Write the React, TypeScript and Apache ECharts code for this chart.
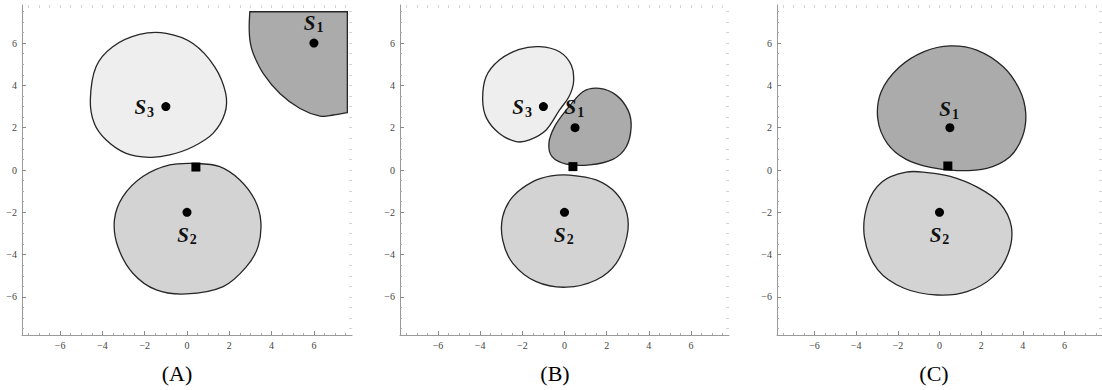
import React, { useEffect, useRef } from "react";
import * as echarts from "echarts";

// ---------- axis ----------
const AXIS_MIN = -7.8;
const AXIS_MAX = 7.8;
const majorTicks = [-6, -4, -2, 0, 2, 4, 6];
const minorTicks = [-7.5, -7, -6.5, -5.5, -5, -4.5, -3.5, -3, -2.5, -1.5, -1, -0.5, 0.5, 1, 1.5, 2.5, 3, 3.5, 4.5, 5, 5.5, 6.5, 7, 7.5];
const allTicks = [-7.5, -7, -6.5, -6, -5.5, -5, -4.5, -4, -3.5, -3, -2.5, -2, -1.5, -1, -0.5, 0, 0.5, 1, 1.5, 2, 2.5, 3, 3.5, 4, 4.5, 5, 5.5, 6, 6.5, 7, 7.5];
const captions = ["(A)", "(B)", "(C)"];

// ---------- panel A ----------
const regionA_S1: number[][] = [
  [2.97, 7.48], [7.58, 7.48], [7.58, 2.71],
  [6.92, 2.6], [6.29, 2.55], [5.34, 2.91], [4.39, 3.62], [3.6, 4.57], [3.13, 5.51], [2.98, 6.1], [2.94, 6.75],
];
const cornersA_S1 = [0, 1, 2];
const regionA_S3: number[][] = [
  [-4.57, 3.31], [-4.3, 4.88], [-3.51, 5.83], [-2.24, 6.41], [-0.98, 6.46], [0.28, 5.98], [1.31, 4.88],
  [1.83, 3.62], [1.79, 2.68], [1.23, 1.73], [0.28, 1.1], [-0.82, 0.71], [-1.77, 0.6], [-2.88, 0.79],
  [-3.82, 1.42], [-4.38, 2.2],
];
const regionA_S2: number[][] = [
  [0.44, 0.31], [1.55, 0.16], [2.5, -0.47], [3.21, -1.42], [3.49, -2.44], [3.36, -3.62], [2.81, -4.57],
  [1.71, -5.51], [-0.03, -5.86], [-1.45, -5.67], [-2.56, -4.88], [-3.27, -3.62], [-3.43, -2.36],
  [-3.03, -1.26], [-2.09, -0.31], [-0.82, 0.24],
];
const dotsA: number[][] = [[6, 6], [-1, 3], [0, -2]];
const squareA: number[][] = [[0.42, 0.14]];
const labelsA: [number, number, string][] = [[5.99, 6.96, "1"], [-2.02, 2.96, "3"], [0, -3.06, "2"]];

// ---------- panel B ----------
const regionB_S3: number[][] = [
  [-3.88, 3.31], [-3.72, 4.41], [-3.09, 5.2], [-2.14, 5.7], [-1.19, 5.83], [-0.24, 5.59], [0.32, 4.96],
  [0.43, 4.17], [0.21, 3.46], [-0.24, 2.83], [-0.87, 1.89], [-1.66, 1.42], [-2.29, 1.34], [-3.09, 1.73],
  [-3.69, 2.44],
];
const regionB_S1: number[][] = [
  [0.87, 3.7], [1.66, 3.86], [2.45, 3.54], [3.01, 2.83], [3.16, 2.05], [2.93, 1.1], [2.29, 0.5],
  [1.19, 0.24], [0.08, 0.28], [-0.59, 0.63], [-0.74, 1.26], [-0.47, 2.05], [0.08, 2.83],
];
const regionB_S2: number[][] = [
  [0.24, -0.24], [1.5, -0.47], [2.45, -1.1], [2.96, -2.05], [2.96, -3.15], [2.45, -4.41], [1.5, -5.2],
  [0.08, -5.54], [-1.34, -5.28], [-2.45, -4.41], [-2.93, -3.31], [-2.93, -2.2], [-2.45, -1.26],
  [-1.5, -0.55], [-0.63, -0.28],
];
const dotsB: number[][] = [[-1, 3], [0.5, 2], [0, -2]];
const squareB: number[][] = [[0.4, 0.16]];
const labelsB: [number, number, string][] = [[-2.01, 2.96, "3"], [0.47, 2.96, "1"], [-0.03, -3.06, "2"]];

// ---------- panel C ----------
const regionC_S1: number[][] = [
  [0.52, 5.87], [1.79, 5.67], [3.06, 4.88], [3.85, 3.78], [4.14, 2.68], [3.98, 1.57], [3.38, 0.63],
  [2.27, 0.08], [0.84, -0.03], [-0.43, 0.12], [-1.6, 0.5], [-2.5, 1.25], [-2.96, 2.4], [-2.8, 3.7],
  [-1.95, 4.85], [-0.74, 5.6],
];
const regionC_S2: number[][] = [
  [-1.6, -0.1], [-0.6, -0.12], [0.52, -0.3], [1.79, -0.8], [2.9, -1.57], [3.45, -2.68], [3.3, -3.94],
  [2.58, -5.04], [1.32, -5.75], [-0.11, -5.91], [-1.7, -5.59], [-2.96, -4.72], [-3.6, -3.2],
  [-3.45, -1.6], [-2.75, -0.55],
];
const dotsC: number[][] = [[0.5, 2], [0, -2]];
const squareC: number[][] = [[0.4, 0.19]];
const labelsC: [number, number, string][] = [[0.46, 2.88, "1"], [0, -3.06, "2"]];

const FILL_S1 = "#ababab";
const FILL_S2 = "#d3d3d3";
const FILL_S3 = "#eeeeee";
const SERIF = '"Liberation Serif", "DejaVu Serif", serif';

type Region = { pts: number[][]; corners: number[]; fill: string };
type Panel = {
  grid: { left: number; top: number; width: number; height: number };
  captionX: number;
  regions: Region[];
  dots: number[][];
  square: number[][];
  labels: [number, number, string][];
};

const panels: Panel[] = [
  {
    grid: { left: 22, top: 5, width: 330, height: 330 },
    captionX: 177,
    regions: [
      { pts: regionA_S1, corners: cornersA_S1, fill: FILL_S1 },
      { pts: regionA_S3, corners: [], fill: FILL_S3 },
      { pts: regionA_S2, corners: [], fill: FILL_S2 },
    ],
    dots: dotsA, square: squareA, labels: labelsA,
  },
  {
    grid: { left: 400, top: 5, width: 329, height: 330 },
    captionX: 555,
    regions: [
      { pts: regionB_S3, corners: [], fill: FILL_S3 },
      { pts: regionB_S1, corners: [], fill: FILL_S1 },
      { pts: regionB_S2, corners: [], fill: FILL_S2 },
    ],
    dots: dotsB, square: squareB, labels: labelsB,
  },
  {
    grid: { left: 777, top: 5, width: 330, height: 330 },
    captionX: 934,
    regions: [
      { pts: regionC_S1, corners: [], fill: FILL_S1 },
      { pts: regionC_S2, corners: [], fill: FILL_S2 },
    ],
    dots: dotsC, square: squareC, labels: labelsC,
  },
];

function buildPath(px: number[][], corners: number[]): string {
  const n = px.length;
  const k = 1 / 6;
  const isC = (i: number) => corners.indexOf(i) >= 0;
  let d = `M${px[0][0]},${px[0][1]}`;
  for (let i = 0; i < n; i++) {
    const p0 = px[(i - 1 + n) % n];
    const p1 = px[i];
    const p2 = px[(i + 1) % n];
    const p3 = px[(i + 2) % n];
    const c1 = isC(i) ? p1 : [p1[0] + (p2[0] - p0[0]) * k, p1[1] + (p2[1] - p0[1]) * k];
    const c2 = isC((i + 1) % n) ? p2 : [p2[0] - (p3[0] - p1[0]) * k, p2[1] - (p3[1] - p1[1]) * k];
    d += ` C${c1[0]},${c1[1]} ${c2[0]},${c2[1]} ${p2[0]},${p2[1]}`;
  }
  return d + " Z";
}

const fmt = (v: number) => String(v).replace("-", "\u2212");

function buildOption() {
  const grid: any[] = [];
  const xAxis: any[] = [];
  const yAxis: any[] = [];
  const series: any[] = [];
  const graphic: any[] = [];

  panels.forEach((p, pi) => {
    for (let j = 0; j < 3; j++) grid.push({ ...p.grid, containLabel: false });
    const g0 = pi * 3;
    const base = { type: "value", min: AXIS_MIN, max: AXIS_MAX, splitLine: { show: false } };
    const line = { show: true, onZero: false, lineStyle: { color: "#9a9a9a", width: 1 } };
    const noLine = { show: false, onZero: false };
    const lbl = { customValues: majorTicks, formatter: fmt, fontSize: 10, color: "#444", fontFamily: SERIF, margin: 5 };
    xAxis.push({
      ...base, gridIndex: g0, position: "bottom", axisLine: line,
      axisTick: { show: true, inside: true, length: 4, customValues: majorTicks, lineStyle: { color: "#8a8a8a" } },
      axisLabel: lbl,
    });
    yAxis.push({
      ...base, gridIndex: g0, position: "left", axisLine: line,
      axisTick: { show: true, inside: true, length: 4, customValues: majorTicks, lineStyle: { color: "#8a8a8a" } },
      axisLabel: lbl,
    });
    xAxis.push({
      ...base, gridIndex: g0 + 1, position: "bottom", axisLine: noLine,
      axisTick: { show: true, inside: true, length: 2, customValues: minorTicks, lineStyle: { color: "#aaa" } },
      axisLabel: { show: false },
    });
    yAxis.push({
      ...base, gridIndex: g0 + 1, position: "left", axisLine: noLine,
      axisTick: { show: true, inside: true, length: 2, customValues: minorTicks, lineStyle: { color: "#aaa" } },
      axisLabel: { show: false },
    });
    xAxis.push({
      ...base, gridIndex: g0 + 2, position: "top", axisLine: noLine,
      axisTick: { show: true, inside: true, length: 3, customValues: allTicks, lineStyle: { color: "#d4d4d4" } },
      axisLabel: { show: false },
    });
    yAxis.push({
      ...base, gridIndex: g0 + 2, position: "right", axisLine: noLine,
      axisTick: { show: true, inside: true, length: 3, customValues: allTicks, lineStyle: { color: "#d4d4d4" } },
      axisLabel: { show: false },
    });

    p.regions.forEach((r) => {
      series.push({
        type: "custom",
        xAxisIndex: g0, yAxisIndex: g0,
        silent: true, clip: false,
        data: r.pts,
        renderItem: (params: any, api: any) => {
          if (params.dataIndex !== 0) return null;
          const px = r.pts.map((pt) => api.coord(pt));
          return {
            type: "path",
            shape: { pathData: buildPath(px, r.corners) },
            style: { fill: r.fill, stroke: "#262626", lineWidth: 1.3 },
          };
        },
      });
    });

    series.push({
      type: "scatter", xAxisIndex: g0, yAxisIndex: g0, silent: true,
      symbol: "circle", symbolSize: 9, itemStyle: { color: "#000", opacity: 1 }, data: p.dots, z: 5,
    });
    series.push({
      type: "scatter", xAxisIndex: g0, yAxisIndex: g0, silent: true,
      symbol: "rect", symbolSize: 9, itemStyle: { color: "#000", opacity: 1 }, data: p.square, z: 5,
    });
    series.push({
      type: "custom", xAxisIndex: g0, yAxisIndex: g0, silent: true, z: 6,
      data: p.labels,
      renderItem: (params: any, api: any) => {
        const lb = p.labels[params.dataIndex];
        const c = api.coord([lb[0], lb[1]]);
        return {
          type: "text",
          x: c[0], y: c[1],
          style: {
            text: `{s|S}{d|${lb[2]}}`,
            align: "center",
            verticalAlign: "middle",
            rich: {
              s: { fontFamily: SERIF, fontStyle: "italic", fontWeight: "bold", fontSize: 21, fill: "#111", lineHeight: 22 },
              d: { fontFamily: SERIF, fontWeight: "bold", fontSize: 14, fill: "#111", lineHeight: 14, padding: [10, 0, 0, 1] },
            },
          },
        };
      },
    });

    graphic.push({
      type: "text", x: p.captionX, y: 373,
      style: { text: captions[pi], fontFamily: SERIF, fontSize: 22, fill: "#000", align: "center", verticalAlign: "middle" },
    });
  });

  return { animation: false, backgroundColor: "#ffffff", grid, xAxis, yAxis, series, graphic };
}

export default function App() {
  const ref = useRef<HTMLDivElement>(null);
  useEffect(() => {
    if (!ref.current) return;
    const chart = echarts.init(ref.current, undefined, { renderer: "svg" });
    chart.setOption(buildOption() as any);
    return () => chart.dispose();
  }, []);
  return <div ref={ref} style={{ position: "absolute", left: 0, top: 0, width: 1102, height: 390 }} />;
}
